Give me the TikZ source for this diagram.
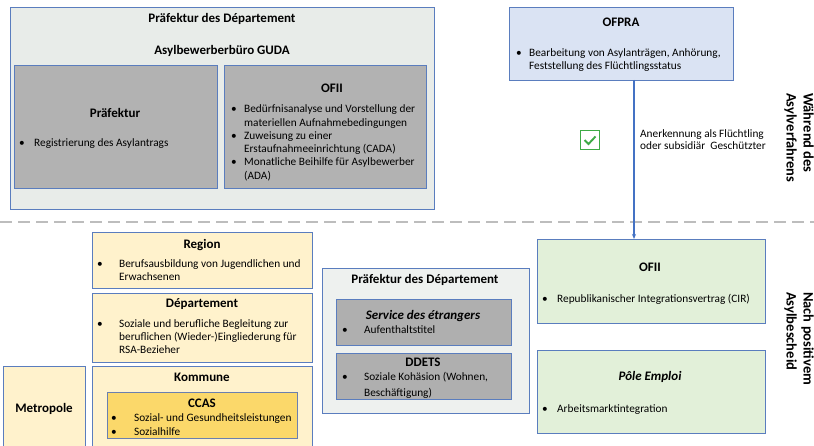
\documentclass[tikz,border=0pt]{standalone}
\usepackage{fontspec}
\setmainfont{Carlito}
\usetikzlibrary{arrows.meta}
\definecolor{bord}{HTML}{5A7DBE}
\definecolor{topbg}{HTML}{E8ECE9}
\definecolor{lightbg}{HTML}{EEF1EF}
\definecolor{gray1}{HTML}{B2B2B2}
\definecolor{gray2}{HTML}{AFAFAF}
\definecolor{blue1}{HTML}{DAE3F3}
\definecolor{yel}{HTML}{FFF2CC}
\definecolor{gold}{HTML}{FBD86A}
\definecolor{ccasb}{HTML}{6A7FB0}
\definecolor{green1}{HTML}{E2F0D9}
\definecolor{chkgreen}{HTML}{3DAA45}
\definecolor{dashc}{HTML}{BDBDBD}
\definecolor{arrc}{HTML}{4472C4}
\newcounter{tn}
\newcommand\bx[6]{\node[box,#6,minimum width={(#4)-(#2)},minimum height={(#5)-(#3)}] (#1) at (#2,#3) {};}
\newcommand\tl[3]{\stepcounter{tn}\node[txt,anchor=base west] (t\arabic{tn}) at (#1,#2+4) {#3};}
\newcommand\bul[2]{\stepcounter{tn}\node[txt,anchor=base] (t\arabic{tn}) at (#1,#2+4) {•};}
\newcommand\ttl[3]{\stepcounter{tn}\node[ttlf,anchor=base] (t\arabic{tn}) at (#1,#2+4.5) {#3};}
\newcommand\ttli[3]{\stepcounter{tn}\node[ttlf,anchor=base,font=\fontsize{13}{15}\selectfont\bfseries\itshape] (t\arabic{tn}) at (#1,#2+4.5) {#3};}
\begin{document}
\begin{tikzpicture}[x=1pt,y=-1pt,
  box/.style={draw=bord,line width=0.8pt,inner sep=0pt,outer sep=0pt,anchor=north west},
  txt/.style={inner sep=0pt,font=\fontsize{11.3}{13}\selectfont},
  ttlf/.style={inner sep=0pt,font=\fontsize{13}{15}\selectfont\bfseries},
  rot/.style={rotate=-90,anchor=west,align=left,inner sep=0pt,font=\fontsize{14.5}{17}\selectfont\bfseries},
  arr/.style={draw=arrc,line width=1.1pt,-{Stealth[length=5pt,width=4pt]}},
  dashline/.style={draw=dashc,line width=1.4pt,dash pattern=on 12pt off 6pt}]
\clip (0,0) rectangle (814,446);
\fill[white] (0,0) rectangle (814,446);
% ---------- top part ----------
\bx{outer}{10}{7}{434}{209}{fill=topbg}
\ttl{222}{18}{Präfektur des Département}
\ttl{222}{50}{Asylbewerberbüro GUDA}
\bx{pref}{14}{65}{217}{188}{fill=gray1}
\ttl{115}{113}{Präfektur}
\bul{22}{143}\tl{34}{143}{Registrierung des Asylantrags}
\bx{ofiiA}{224}{65}{426}{188}{fill=gray1}
\ttl{332}{88}{OFII}
\bul{234}{109}\tl{244}{109}{Bedürfnisanalyse und Vorstellung der}
\tl{244}{123}{materiellen Aufnahmebedingungen}
\bul{234}{136}\tl{244}{136}{Zuweisung zu einer}
\tl{244}{149}{Erstaufnahmeeinrichtung (CADA)}
\bul{234}{162}\tl{244}{162}{Monatliche Beihilfe für Asylbewerber}
\tl{244}{176}{(ADA)}
\bx{ofpra}{509}{7}{733}{80}{fill=blue1}
\ttl{621}{22}{OFPRA}
\bul{519}{53}\tl{529}{53}{Bearbeitung von Asylanträgen, Anhörung,}
\tl{529}{66}{Feststellung des Flüchtlingsstatus}
\node[draw=chkgreen,line width=1.8pt,minimum size=19pt,inner sep=0pt] (chk) at (590,140) {};
\draw[chkgreen,line width=1.9pt] (chk.center) ++(-5.5,0) -- ++(4,4) -- ++(7,-7.5);
\tl{640}{134}{Anerkennung als Flüchtling}
\tl{640}{146}{oder subsidiär\ \ Geschützter}
\node[rot] (lab1) at (799,93) {Während des\\Asylverfahrens};
% ---------- separator ----------
\coordinate (dl) at (0,222);
\coordinate (dr) at (814,222);
\draw[dashline] (dl) -- (dr);
% ---------- bottom part ----------
\bx{region}{92}{232}{312}{288}{fill=yel}
\ttl{202}{244}{Region}
\bul{100}{264}\tl{119}{264}{Berufsausbildung von Jugendlichen und}
\tl{119}{277}{Erwachsenen}
\bx{dep}{92}{293}{312}{362}{fill=yel}
\ttl{202}{303}{Département}
\bul{100}{324}\tl{119}{324}{Soziale und berufliche Begleitung zur}
\tl{119}{337}{beruflichen (Wieder-)Eingliederung für}
\tl{119}{349}{RSA-Bezieher}
\bx{kom}{92}{366}{312}{452}{fill=yel}
\ttl{202}{377}{Kommune}
\bx{ccas}{107}{392}{297}{438}{fill=gold,draw=ccasb}
\ttl{202}{403}{CCAS}
\bul{114}{417}\tl{134}{417}{Sozial- und Gesundheitsleistungen}
\bul{114}{431}\tl{134}{431}{Sozialhilfe}
\bx{metro}{3}{366}{85}{452}{fill=yel}
\ttl{44}{408}{Metropole}
\bx{prefB}{322}{268}{529}{413}{fill=lightbg}
\ttl{425}{279}{Präfektur des Département}
\bx{serv}{336}{299}{511}{345}{fill=gray2}
\ttli{423}{315}{Service des étrangers}
\bul{345}{330}\tl{364}{330}{Aufenthaltstitel}
\bx{ddets}{336}{353}{511}{399}{fill=gray2}
\ttl{423}{362}{DDETS}
\bul{345}{377}\tl{364}{377}{Soziale Kohäsion (Wohnen,}
\tl{364}{392}{Beschäftigung)}
\bx{ofiiB}{537}{239}{765}{323}{fill=green1}
\ttl{650}{267}{OFII}
\bul{545}{299}\tl{557}{299}{Republikanischer Integrationsvertrag (CIR)}
\bx{pole}{537}{350}{765}{433}{fill=green1}
\ttli{650}{376}{Pôle Emploi}
\bul{545}{408}\tl{557}{408}{Arbeitsmarktintegration}
\node[rot] (lab2) at (799,292) {Nach positivem\\Asylbescheid};
% ---------- arrow ----------
\coordinate (arrx) at (634,0);
\draw[arr] (ofpra.south -| arrx) -- (ofiiB.north -| arrx);
\end{tikzpicture}
\end{document}
